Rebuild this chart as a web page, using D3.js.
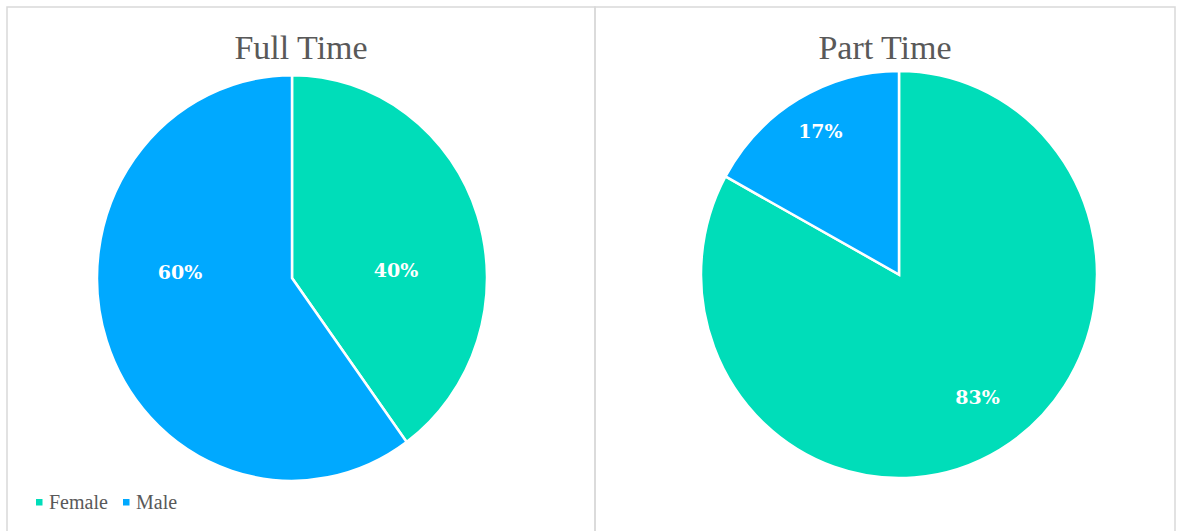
<!DOCTYPE html>
<html>
<head>
<meta charset="utf-8">
<script src="https://cdn.jsdelivr.net/npm/d3@7"></script>
<style>
  body { margin: 0; background: #fff; }
  svg { display: block; }
</style>
</head>
<body>
<div id="chart"></div>
<script>
// two pies: full time vs part time by gender
const categories = ["Female", "Male"];
const fullTime = [40, 60];
const partTime = [83, 17];
const titles = ["Full Time", "Part Time"];

const colors = { Female: "#00DDB9", Male: "#00A9FF" };
const width = 1177;
const height = 531;

const svg = d3
  .select("#chart")
  .append("svg")
  .attr("width", width)
  .attr("height", height);

// the original pies are slightly taller than wide
const panels = [
  { x: 7, w: 588, cx: 292, cy: 278, r: 195, sy: 1.04, values: fullTime, title: titles[0], side: true },
  { x: 595, w: 580, cx: 899, cy: 274.5, r: 198, sy: 1.028, values: partTime, title: titles[1], side: false },
];

const pie = d3.pie().sort(null).value((d) => d.v);

panels.forEach((p) => {
  const g = svg.append("g");

  g.append("rect")
    .attr("x", p.x)
    .attr("y", 7)
    .attr("width", p.w)
    .attr("height", height + 10)
    .attr("fill", "none")
    .attr("stroke", "#d9d9d9")
    .attr("stroke-width", 1.5);

  g.append("text")
    .attr("x", p.x + p.w / 2)
    .attr("y", 59)
    .attr("text-anchor", "middle")
    .attr("font-family", "'Liberation Serif', 'DejaVu Serif', serif")
    .attr("font-size", 34)
    .attr("fill", "#595959")
    .text(p.title);

  const data = categories.map((c, i) => ({ c, v: p.values[i] }));
  const arcs = pie(data);
  const arc = d3.arc().innerRadius(0).outerRadius(p.r);

  const pg = g.append("g").attr("transform", `translate(${p.cx},${p.cy})`);

  pg.append("g")
    .attr("transform", `scale(1,${p.sy})`)
    .selectAll("path")
    .data(arcs)
    .join("path")
    .attr("d", arc)
    .attr("fill", (d) => colors[d.data.c])
    .attr("stroke", "#fff")
    .attr("stroke-width", 2.5)
    .attr("vector-effect", "non-scaling-stroke");

  // label placement: centroid-ish, full time chart labels sit near the horizontal
  const labelArc = d3.arc().innerRadius(p.r * 0.78).outerRadius(p.r * 0.78);
  pg.selectAll("text")
    .data(arcs)
    .join("text")
    .attr("transform", (d) => {
      if (p.side) {
        const mid = (d.startAngle + d.endAngle) / 2;
        const dir = Math.sin(mid) > 0 ? 1 : -1;
        return `translate(${dir > 0 ? 104 : -112},${dir > 0 ? -8 : -6})`;
      }
      const [x, y] = labelArc.centroid(d);
      return `translate(${x},${y - 10})`;
    })
    .attr("text-anchor", "middle")
    .attr("dy", "0.35em")
    .attr("font-family", "'DejaVu Serif', serif")
    .attr("font-weight", "bold")
    .attr("font-size", 19)
    .attr("fill", "#fff")
    .text((d) => d.data.v + "%");
});

// legend
const legend = svg
  .append("g")
  .attr("transform", "translate(36,502)")
  .selectAll("g")
  .data(categories)
  .join("g")
  .attr("transform", (d, i) => `translate(${i * 87},0)`);

legend
  .append("rect")
  .attr("x", 0)
  .attr("y", -3)
  .attr("width", 6.5)
  .attr("height", 6.5)
  .attr("fill", (d) => colors[d]);

legend
  .append("text")
  .attr("x", 13)
  .attr("dy", "0.35em")
  .attr("font-family", "'Liberation Serif', 'DejaVu Serif', serif")
  .attr("font-size", 20)
  .attr("fill", "#595959")
  .text((d) => d);
</script>
</body>
</html>
